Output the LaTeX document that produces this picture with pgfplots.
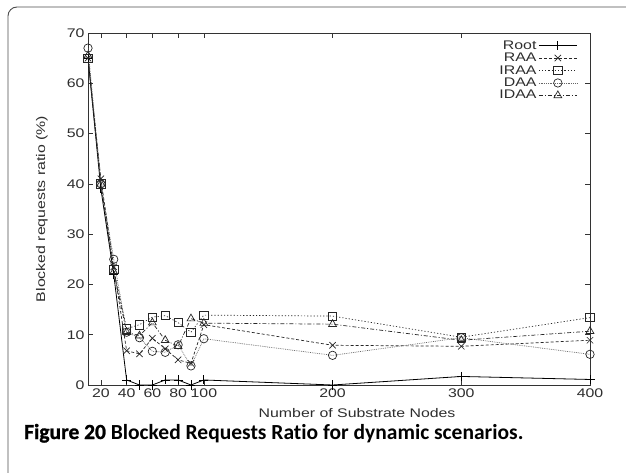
\documentclass[border=0pt]{standalone}
\usepackage{fontspec}
\setmainfont{Liberation Sans}[FakeStretch=1.27]
\newfontfamily\capfont{Carlito}[Ligatures=NoCommon]
\newfontfamily\capfontheavy{Carlito}[Ligatures=NoCommon, BoldFeatures={FakeBold=1.2}]
\usepackage{pgfplots}
\pgfplotsset{compat=1.18}
\definecolor{txt}{gray}{0.18}

\begin{document}
\begin{tikzpicture}
\useasboundingbox (0bp,0bp) rectangle (626bp,476bp);
% frame of the figure box (runs off right and bottom)
\draw[gray!60!black, line width=0.9bp, rounded corners=9bp]
  (8bp,3bp) -- (8bp,469bp) -- (640bp,469bp);

\begin{axis}[
    at={(88bp,91bp)}, anchor=south west,
    scale only axis,
    width=502bp, height=352bp,
    xmin=10, xmax=400,
    ymin=0, ymax=70,
    xtick={20,40,60,80,100,200,300,400},
    ytick={0,10,...,70},
    tick align=inside,
    major tick length=5bp,
    axis line style={line width=0.9bp, black!80},
    tick style={line width=0.6bp, black!80},
    ticklabel style={font=\fontsize{12.5bp}{14bp}\selectfont, text=txt},
    /pgf/number format/assume math mode=true,
    xlabel={Number of Substrate Nodes},
    ylabel={Blocked requests ratio (\%)},
    label style={font=\fontsize{12.5bp}{14bp}\selectfont, text=txt},
    xlabel style={at={(axis description cs:0.536,-0.08)}, anchor=center},
    ylabel style={at={(axis description cs:-0.092,0.5)}, anchor=center},
    legend style={at={(0.975,0.985)}, anchor=north east, draw=none, fill=none,
        font=\fontsize{12.5bp}{12bp}\selectfont, text=txt,
        row sep=-1.6bp, inner sep=0pt},
    legend plot pos=right,
    legend cell align=right,
    legend image code/.code={%
        \draw[#1] (0bp,0bp) -- (19bp,0bp) -- (38bp,0bp);
        \draw[#1, solid] plot coordinates {(19bp,0bp)};},
]

\addplot[black, line width=0.8bp, mark=+, mark size=4.5bp] coordinates {
 (10,65) (20,39) (30,22) (40,1) (50,0) (60,0) (70,1) (80,1) (90,0)
 (100,1) (200,0) (300,1.7) (400,1.1)};
\addlegendentry{Root}

\addplot[black!85, line width=0.7bp, dash pattern=on 3bp off 2bp,
  mark=x, mark size=4.5bp, mark options={solid}] coordinates {
 (10,65) (20,41) (30,23.5) (40,6.8) (50,6.2) (60,9.3) (70,7.2) (80,5) (90,4.3)
 (100,12) (200,7.9) (300,7.7) (400,8.9)};
\addlegendentry{RAA}

\addplot[black!85, line width=0.7bp, dash pattern=on 1.2bp off 2bp,
  mark=square, mark size=4.2bp, mark options={solid}] coordinates {
 (10,65) (20,40) (30,23) (40,11.2) (50,12) (60,13.5) (70,13.8) (80,12.4) (90,10.5)
 (100,13.9) (200,13.7) (300,9.5) (400,13.4)};
\addlegendentry{IRAA}

\addplot[black!60, line width=0.7bp, dash pattern=on 0.8bp off 1bp,
  mark=o, mark size=4.2bp, mark options={solid, black!85}] coordinates {
 (10,67) (20,40) (30,25) (40,10.5) (50,9.4) (60,6.7) (70,6.5) (80,8) (90,3.8)
 (100,9.2) (200,5.9) (300,9.4) (400,6.1)};
\addlegendentry{DAA}

\addplot[black!85, line width=0.7bp, dash pattern=on 4bp off 2bp on 1bp off 2bp,
  mark=triangle, mark size=4.5bp, mark options={solid}] coordinates {
 (10,65.5) (20,40) (30,22.5) (40,10.5) (50,9.8) (60,12.4) (70,8.9) (80,7.7) (90,13.2)
 (100,12.3) (200,12.1) (300,8.9) (400,10.7)};
\addlegendentry{IDAA}
\end{axis}

\node[anchor=base west, inner sep=0pt, font=\capfont\fontsize{21.5bp}{24bp}\selectfont\bfseries]
  at (24bp,37bp) {{\capfontheavy\bfseries Figure 20}\ Blocked Requests Ratio for dynamic scenarios.};
\end{tikzpicture}
\end{document}
